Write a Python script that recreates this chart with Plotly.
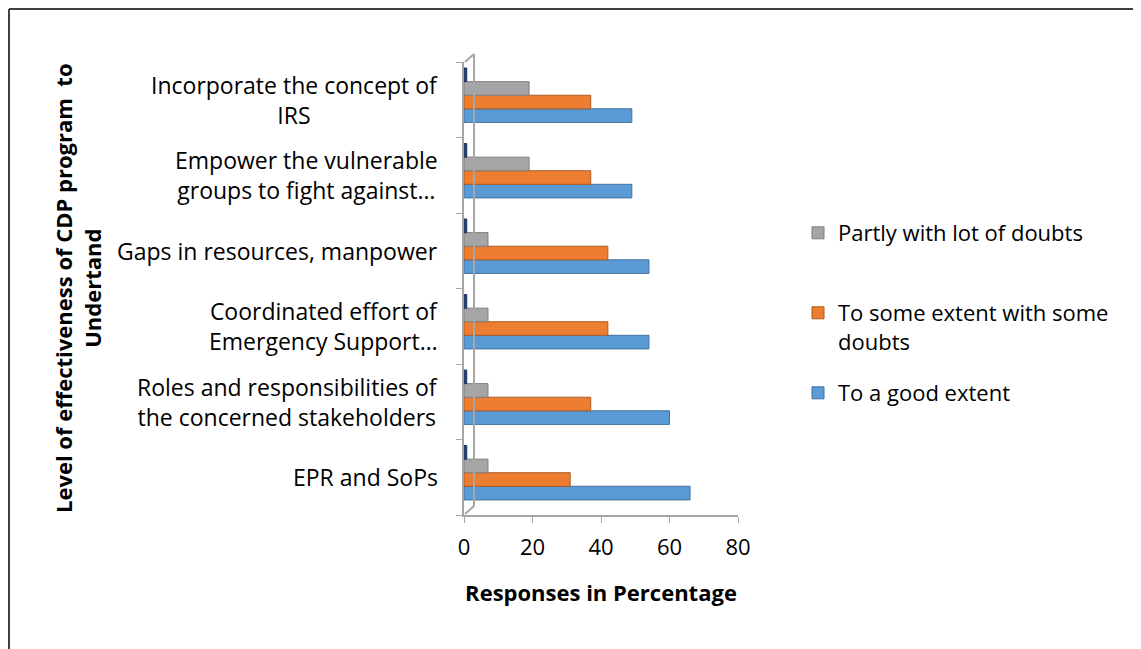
import plotly.graph_objects as go

categories = [
    "EPR and SoPs",
    "Roles and responsibilities of<br>the concerned stakeholders",
    "Coordinated effort of<br>Emergency Support…",
    "Gaps in resources, manpower",
    "Empower the vulnerable<br>groups to fight against…",
    "Incorporate the concept of<br>IRS",
]
good_extent = [66, 60, 54, 54, 49, 49]
some_extent = [31, 37, 42, 42, 37, 37]
partly = [7, 7, 7, 7, 19, 19]
other = [0.8, 0.8, 0.8, 0.8, 0.8, 0.8]
x_ticks = [0, 20, 40, 60, 80]

FONT = "Open Sans"
OFF = 8  # page body margin
W, H = 1141 - OFF, 649 - OFF
L = 464 - OFF
R = W - (738 - OFF)
T = 62 - OFF
B = H - (515 - OFF)
PW, PH = W - L - R, H - T - B


def px(x):  # page pixel -> paper x
    return (x - OFF - L) / PW


def py(y):  # page pixel -> paper y
    return 1 - (y - OFF - T) / PH


fig = go.Figure()
series = [
    ("To a good extent", good_extent, "#5B9BD5", "#41719C", "legend3", -0.30),
    ("To some extent with some<br>doubts", some_extent, "#ED7D31", "#AE5A21", "legend2", -0.12),
    ("Partly with lot of doubts", partly, "#A5A5A5", "#7F7F7F", "legend", 0.06),
    ("Other", other, "#264478", "#1A3060", None, 0.24),
]
for name, vals, col, line, leg, off in series:
    fig.add_trace(go.Bar(
        y=categories, x=vals, name=name, orientation="h",
        width=0.18, offset=off,
        marker=dict(color=col, line=dict(color=line, width=1)),
        showlegend=leg is not None, legend=leg or "legend",
    ))

legend_common = dict(
    xanchor="left", yanchor="top", valign="top", itemwidth=30,
    font=dict(family=FONT, size=22, color="black"), bgcolor="rgba(0,0,0,0)",
)
fig.update_layout(
    width=W, height=H,
    margin=dict(l=L, r=R, t=T, b=B, autoexpand=False),
    paper_bgcolor="white", plot_bgcolor="white",
    barmode="group",
    font=dict(family=FONT, size=22, color="black"),
    legend=dict(x=px(798), y=py(212), **legend_common),
    legend2=dict(x=px(798), y=py(292), **legend_common),
    legend3=dict(x=px(798), y=py(372), **legend_common),
    xaxis=dict(
        range=[0, 80], tickvals=x_ticks, showgrid=False, zeroline=False,
        showline=True, linecolor="#A6A6A6", linewidth=2,
        ticks="outside", tickcolor="#A6A6A6", ticklen=6, ticklabelstandoff=6,
        tickfont=dict(size=22),
        title=dict(text="<b>Responses in Percentage</b>", standoff=25,
                   font=dict(size=22)),
    ),
    yaxis=dict(
        categoryorder="array", categoryarray=categories, range=[-0.5, 5.5],
        showticklabels=False, showgrid=False, zeroline=False,
        showline=True, linecolor="#A6A6A6", linewidth=2,
        ticks="outside", tickcolor="#A6A6A6", ticklen=6, tickson="boundaries",
    ),
)

# category labels (centred lines, like the original)
for c in categories:
    fig.add_annotation(
        x=px(440), y=c, xref="paper", yref="y", text=c, showarrow=False,
        xanchor="right", yanchor="middle", align="center",
        font=dict(family=FONT, size=23, color="black"),
    )

# y axis title
fig.add_annotation(
    x=px(77), y=py(288), xref="paper", yref="paper",
    text="<b>Level of effectiveness of CDP program  to<br>Undertand</b>",
    textangle=-90, showarrow=False, xanchor="center", yanchor="middle",
    align="center", font=dict(family=FONT, size=22, color="black"),
)

grey = dict(color="#A6A6A6", width=2)
frame = dict(color="#404040", width=2)
shapes = [
    dict(type="line", xref="paper", yref="paper", x0=px(474), x1=px(474), y0=py(506), y1=py(54), line=grey),
    dict(type="line", xref="paper", yref="paper", x0=px(465), x1=px(474), y0=py(514), y1=py(506), line=grey),
    dict(type="line", xref="paper", yref="paper", x0=px(465), x1=px(474), y0=py(62), y1=py(54), line=grey),
    dict(type="line", xref="paper", yref="paper", x0=px(OFF + 1), x1=px(OFF + 1), y0=py(OFF + 1), y1=py(700), line=frame),
    dict(type="line", xref="paper", yref="paper", x0=px(OFF + 1), x1=px(1200), y0=py(OFF + 1), y1=py(OFF + 1), line=frame),
]
fig.update_layout(shapes=shapes)

fig.write_html("out.html")
